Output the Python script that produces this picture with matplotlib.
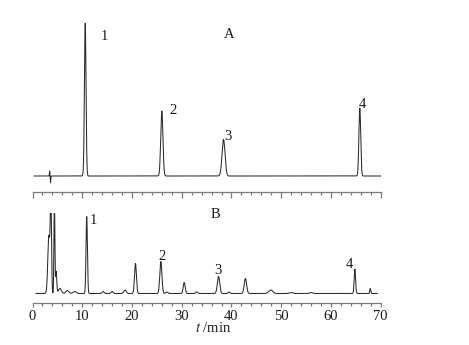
import numpy as np
import matplotlib
matplotlib.use('Agg')
import matplotlib.pyplot as plt
from matplotlib.ticker import MultipleLocator

plt.rcParams['font.family'] = ['Liberation Serif', 'DejaVu Serif']
plt.rcParams['mathtext.fontset'] = 'stix'

W, H = 469, 345
INK = '#1a1a1a'
LINE = '#2b2b2b'
AXC = '#7a7a7a'

# chromatogram A (standards): retention time (min), height, peak width (sigma, min)
a_rt = [3.45, 3.62, 10.6, 26.0, 38.4, 65.8]
a_height = [5.0, -7.0, 152.7, 65.0, 36.7, 67.7]
a_sigma = [0.05, 0.05, 0.16, 0.22, 0.30, 0.18]
a_labels = ['1', '2', '3', '4']
a_label_px = [(104, 36), (173, 110), (228, 136), (362, 105)]

# chromatogram B (sample)
b_rt = [3.30, 3.70, 4.40, 4.75, 5.5, 7.0, 8.5, 10.9, 14.2, 16.0, 18.6, 20.7,
        25.8, 27.0, 30.5, 33.0, 37.4, 39.5, 42.8, 47.9, 52.0, 56.0, 64.8, 67.9]
b_height = [58, 95, 95, 22, 5, 3, 2, 77, 2, 2, 3.5, 30,
            32, 1.5, 11, 1.5, 17, 1.5, 15, 3.5, 1, 1, 24.5, 5]
b_sigma = [0.22, 0.12, 0.09, 0.12, 0.30, 0.30, 0.30, 0.14, 0.20, 0.20, 0.25, 0.19,
           0.21, 0.20, 0.20, 0.20, 0.24, 0.20, 0.24, 0.40, 0.30, 0.30, 0.14, 0.10]
b_labels = ['1', '2', '3', '4']
b_label_px = [(93, 220), (162, 257), (218, 271), (349, 264)]


def trace(t, rts, hs, sigmas):
    y = np.zeros_like(t)
    for rt, h, s in zip(rts, hs, sigmas):
        y += h * np.exp(-0.5 * ((t - rt) / s) ** 2)
    return y


def fx(px):
    return px / W


def fy(py):
    return 1 - py / H


fig = plt.figure(figsize=(W / 100, H / 100), dpi=100)

x0, x1 = 32.5, 380.7
# panel A: bottom spine at 192.3 px, baseline at 176 px
axA = fig.add_axes([fx(x0), fy(192.3), (x1 - x0) / W, (192.3 - 18) / H])
axA.set_ylim(-(192.3 - 176), 176 - 18)
tA = np.linspace(0.3, 70, 4000)
axA.plot(tA, trace(tA, a_rt, a_height, a_sigma), color=LINE, lw=0.75)

# panel B: bottom spine at 303.3 px, baseline at 293.5 px
axB = fig.add_axes([fx(x0), fy(303.3), (x1 - x0) / W, (303.3 - 212.7) / H])
axB.set_ylim(-(303.3 - 293.5), 293.5 - 212.7)
tB = np.linspace(0.7, 69.3, 4000)
axB.plot(tB, trace(tB, b_rt, b_height, b_sigma), color=LINE, lw=0.75)

for ax in (axA, axB):
    ax.set_xlim(0, 70)
    ax.patch.set_visible(False)
    for s in ('top', 'left', 'right'):
        ax.spines[s].set_visible(False)
    ax.spines['bottom'].set_color(AXC)
    ax.spines['bottom'].set_linewidth(0.9)
    ax.set_yticks([])
    ax.xaxis.set_major_locator(MultipleLocator(10))
    ax.xaxis.set_minor_locator(MultipleLocator(2))
    ax.tick_params(axis='x', which='both', direction='out', color=AXC, width=0.9)

axA.tick_params(axis='x', which='major', length=4.3, labelbottom=False)
axA.tick_params(axis='x', which='minor', length=2.2)
axB.tick_params(axis='x', which='major', length=2.6, pad=2, labelsize=10.5, labelcolor=INK)
axB.tick_params(axis='x', which='minor', length=2.2)

for lab, (px, py) in zip(a_labels, a_label_px):
    fig.text(fx(px), fy(py), lab, ha='center', va='center', fontsize=10.5, color=INK)
for lab, (px, py) in zip(b_labels, b_label_px):
    fig.text(fx(px), fy(py), lab, ha='center', va='center', fontsize=10.5, color=INK)

fig.text(fx(229), fy(34), 'A', ha='center', va='center', fontsize=10.5, color=INK)
fig.text(fx(215), fy(214), 'B', ha='center', va='center', fontsize=10.5, color=INK)
fig.text(fx(213), fy(328), '$t$ /min', ha='center', va='center', fontsize=10.5, color=INK)

fig.savefig('out.png', dpi=100, facecolor='white')
